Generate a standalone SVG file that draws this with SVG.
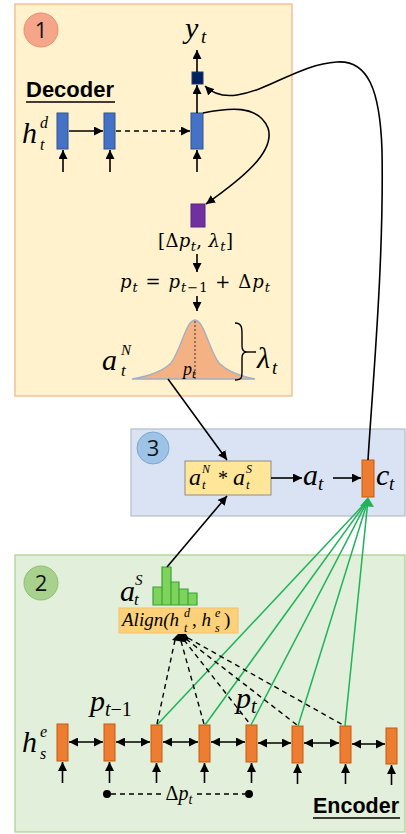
<svg xmlns="http://www.w3.org/2000/svg" width="406" height="834" viewBox="0 0 406 834">
<style>
.m{font-family:"Liberation Serif","DejaVu Serif",serif;font-style:italic;fill:#000}
.f{font-family:"DejaVu Serif","Liberation Serif",serif;font-style:italic;fill:#000}
.u{font-style:normal}
.lbl{font-family:"Liberation Sans",Arial,sans-serif;font-weight:bold;fill:#000}
.num{font-family:"Open Sans","Liberation Sans",sans-serif;fill:#111}
.ln{stroke:#000;stroke-width:1.6;fill:none}
.dash{stroke:#000;stroke-width:1.4;fill:none;stroke-dasharray:5 4}
.grn{stroke:#1fb35a;stroke-width:1.5;fill:none}
.dbox{fill:#4472c4;stroke:#2f528f;stroke-width:1}
.ebox{fill:#ed7d31;stroke:#c55a11;stroke-width:1}
</style>
<defs>
<marker id="ah" viewBox="0 0 10 10" refX="10" refY="5" markerWidth="9" markerHeight="9" markerUnits="userSpaceOnUse" orient="auto-start-reverse"><path d="M0,0 L10,5 L0,10 z" fill="#000"/></marker>
</defs>

<g id="panel1">
<rect x="15" y="4" width="277" height="392" fill="#fff2cc" stroke="#f4b183" stroke-width="1.2"/>
<circle cx="41" cy="30" r="17" fill="#f4a58a" stroke="#e8906e" stroke-width="1"/>
<text class="num" x="41" y="38" font-size="22" text-anchor="middle">1</text>
</g>
<g id="panel3">
<rect x="131" y="429" width="274" height="87" fill="#dae3f3" stroke="#b4bcc8" stroke-width="1.2"/>
<circle cx="153" cy="448" r="16" fill="#9dc3e6" stroke="#7fa6d0" stroke-width="1"/>
<text class="num" x="153" y="456" font-size="22" text-anchor="middle">3</text>
</g>
<g id="panel2">
<rect x="15" y="555" width="390" height="277" fill="#e2efda" stroke="#a9d18e" stroke-width="1.2"/>
<circle cx="41" cy="583" r="17" fill="#a9d18e" stroke="#8cbf73" stroke-width="1"/>
<text class="num" x="41" y="591" font-size="22" text-anchor="middle">2</text>
</g>

<g id="decoder">
<text class="lbl" x="26" y="97" font-size="22" textLength="88" lengthAdjust="spacingAndGlyphs">Decoder</text>
<line x1="26" y1="102" x2="115" y2="102" stroke="#000" stroke-width="1.5"/>
<text class="m" x="22" y="143" font-size="30">h</text>
<text class="m" x="40" y="128" font-size="16">d</text>
<text class="m" x="40" y="150" font-size="16">t</text>
<rect class="dbox" x="57" y="113" width="11" height="36"/>
<rect class="dbox" x="104" y="113" width="11" height="36"/>
<rect class="dbox" x="191" y="113" width="12" height="36"/>
<rect x="192" y="72" width="11" height="12" fill="#002060" stroke="#1f3864" stroke-width="1"/>
<text class="m" x="185" y="38" font-size="30">y</text>
<text class="m" x="201" y="43" font-size="19">t</text>
</g>

<g id="delta">
<rect x="191" y="204" width="14" height="23" fill="#7030a0" stroke="#5b2583" stroke-width="1"/>
<text class="f" x="158" y="247" font-size="18" textLength="75" lengthAdjust="spacing"><tspan class="u">[Δ</tspan>p<tspan font-size="13" dy="4">t</tspan><tspan dy="-4" class="u">, </tspan>λ<tspan font-size="13" dy="4">t</tspan><tspan dy="-4" class="u">]</tspan></text>
<text class="f" x="120" y="288" font-size="18" textLength="150" lengthAdjust="spacing">p<tspan font-size="13" dy="4">t</tspan><tspan dy="-4" class="u"> = </tspan>p<tspan font-size="13" dy="4">t<tspan class="u">−1</tspan></tspan><tspan dy="-4" class="u"> + Δ</tspan>p<tspan font-size="13" dy="4">t</tspan></text>
</g>

<g id="gauss">
<path d="M132,379 C150,376 163,371 171,363 C181,350 186,320 195,320 C204,320 209,350 219,363 C227,371 240,376 255,379 Z" fill="#f4b183" stroke="#9fafc4" stroke-width="1.3"/>
<line x1="195" y1="321" x2="195" y2="379" stroke="#333" stroke-width="1" stroke-dasharray="2 2"/>
<text class="m" x="183" y="375" font-size="18">p<tspan font-size="13" dy="3">t</tspan></text>
<text class="m" x="102" y="370" font-size="30">a</text>
<text class="m" x="121" y="355" font-size="15">N</text>
<text class="m" x="121" y="376" font-size="17">t</text>
<path d="M235,323 C242,323 242,328 242,335 L242,346 C242,350 244,352 247,352 C244,352 242,354 242,358 L242,372 C242,377 242,380 235,380" fill="none" stroke="#000" stroke-width="1.4"/>
<line x1="247" y1="352" x2="256" y2="352" stroke="#000" stroke-width="1.4"/>
<text class="m" x="257" y="368" font-size="30">λ</text>
<text class="m" x="272" y="374" font-size="19">t</text>
</g>

<g id="combine">
<rect x="185" y="461" width="86" height="34" fill="#ffe699" stroke="#8c8c8c" stroke-width="1"/>
<text class="m" x="189" y="485" font-size="24">a</text>
<text class="m" x="202" y="473" font-size="12">N</text>
<text class="m" x="202" y="489" font-size="13">t</text>
<text class="m" x="218" y="485" font-size="20"><tspan class="u">*</tspan></text>
<text class="m" x="233" y="485" font-size="24">a</text>
<text class="m" x="246" y="473" font-size="12">S</text>
<text class="m" x="246" y="489" font-size="13">t</text>
<text class="m" x="303" y="485" font-size="30">a</text>
<text class="m" x="318" y="490" font-size="19">t</text>
<rect class="ebox" x="362" y="460" width="12" height="37"/>
<text class="m" x="376" y="485" font-size="30">c</text>
<text class="m" x="389" y="490" font-size="19">t</text>
</g>

<g id="align">
<path d="M153,605 V587 H162 V567 H171 V582 H179 V589 H188 V593 H197 V605 Z" fill="#7ed35a" stroke="#3aa13a" stroke-width="1.2"/>
<line x1="162" y1="605" x2="162" y2="587" stroke="#3aa13a" stroke-width="1.2"/>
<line x1="171" y1="605" x2="171" y2="582" stroke="#3aa13a" stroke-width="1.2"/>
<line x1="179" y1="605" x2="179" y2="589" stroke="#3aa13a" stroke-width="1.2"/>
<line x1="188" y1="605" x2="188" y2="593" stroke="#3aa13a" stroke-width="1.2"/>
<text class="m" x="120" y="601" font-size="30">a</text>
<text class="m" x="135" y="585" font-size="15">S</text>
<text class="m" x="134" y="605" font-size="17">t</text>
<rect x="119" y="608" width="119" height="25" fill="#fdd07a" stroke="#f6c06a" stroke-width="1"/>
<text class="m" x="122" y="626" font-size="19">Align(h</text>
<text class="m" x="184" y="617" font-size="12">d</text>
<text class="m" x="184" y="632" font-size="12">t</text>
<text class="m" x="192" y="626" font-size="19"><tspan class="u">, </tspan>h</text>
<text class="m" x="215" y="617" font-size="12">e</text>
<text class="m" x="215" y="632" font-size="12">s</text>
<text class="m" x="224" y="626" font-size="19"><tspan class="u">)</tspan></text>
</g>

<g id="encoder">
<text class="m" x="22" y="752" font-size="30">h</text>
<text class="m" x="40" y="737" font-size="16">e</text>
<text class="m" x="40" y="759" font-size="16">s</text>
<text class="m" x="90" y="711" font-size="30">p<tspan font-size="20" dy="5">t<tspan class="u">−1</tspan></tspan></text>
<text class="m" x="236" y="708" font-size="30">p<tspan font-size="20" dy="5">t</tspan></text>
<rect class="ebox" x="57" y="724" width="11" height="37"/>
<rect class="ebox" x="104" y="724" width="11" height="37"/>
<rect class="ebox" x="151" y="725" width="11" height="37"/>
<rect class="ebox" x="199" y="725" width="11" height="37"/>
<rect class="ebox" x="246" y="725" width="11" height="37"/>
<rect class="ebox" x="292" y="726" width="11" height="37"/>
<rect class="ebox" x="340" y="726" width="11" height="37"/>
<rect class="ebox" x="386" y="728" width="11" height="36"/>
<circle cx="107" cy="794" r="4" fill="#000"/>
<circle cx="249" cy="794" r="4" fill="#000"/>
<text class="m" x="179" y="800" font-size="20" text-anchor="middle"><tspan class="u">Δ</tspan>p<tspan font-size="14" dy="4">t</tspan></text>
<text class="lbl" x="313" y="813" font-size="22" textLength="86" lengthAdjust="spacingAndGlyphs">Encoder</text>
<line x1="313" y1="818" x2="400" y2="818" stroke="#000" stroke-width="1.5"/>
</g>

<g id="connectors">
<line class="ln" x1="197" y1="72" x2="197" y2="50" marker-end="url(#ah)"/>
<line class="ln" x1="197" y1="113" x2="197" y2="85" marker-end="url(#ah)"/>
<line class="ln" x1="69" y1="131" x2="103" y2="131" marker-end="url(#ah)"/>
<line class="dash" x1="116" y1="131" x2="190" y2="131" marker-end="url(#ah)"/>
<line class="ln" x1="63" y1="172" x2="63" y2="150" marker-end="url(#ah)"/>
<line class="ln" x1="110" y1="172" x2="110" y2="150" marker-end="url(#ah)"/>
<line class="ln" x1="197" y1="172" x2="197" y2="150" marker-end="url(#ah)"/>
<path class="ln" d="M203,113 C228,108 258,104 268,128 C276,152 240,180 206,204" marker-end="url(#ah)"/>
<line class="ln" x1="197" y1="254" x2="197" y2="272" marker-end="url(#ah)"/>
<line class="ln" x1="197" y1="296" x2="197" y2="311" marker-end="url(#ah)"/>
<path class="ln" d="M368,460 C373,380 384,260 382,150 C380,90 368,60 337,62 C300,64 270,90 237,95 C222,97 212,93 205,86" marker-end="url(#ah)"/>
<line class="ln" x1="168" y1="379" x2="227" y2="460" marker-end="url(#ah)"/>
<line class="ln" x1="167" y1="567" x2="227" y2="496" marker-end="url(#ah)"/>
<line class="ln" x1="271" y1="478" x2="302" y2="478" marker-end="url(#ah)"/>
<line class="ln" x1="333" y1="478" x2="361" y2="478" marker-end="url(#ah)"/>
<line class="grn" x1="157" y1="725" x2="368" y2="500"/>
<line class="grn" x1="205" y1="725" x2="368" y2="500"/>
<line class="grn" x1="251" y1="725" x2="368" y2="500"/>
<line class="grn" x1="298" y1="726" x2="368" y2="500"/>
<line class="grn" x1="345" y1="726" x2="368" y2="500"/>
<path d="M368,497 L374,507 L360,506 Z" fill="#1fb35a"/>
<line class="dash" x1="175" y1="640" x2="157" y2="724"/>
<line class="dash" x1="181" y1="641" x2="204" y2="724"/>
<line class="dash" x1="184" y1="640" x2="250" y2="724"/>
<line class="dash" x1="186" y1="639" x2="297" y2="725"/>
<line class="dash" x1="188" y1="638" x2="343" y2="725"/>
<path d="M172,640 L178,634 L186,634 L189,639 L184,642 Z" fill="#000"/>
<line class="ln" x1="69" y1="742" x2="103" y2="742" marker-start="url(#ah)" marker-end="url(#ah)"/>
<line class="ln" x1="116" y1="742" x2="150" y2="742" marker-start="url(#ah)" marker-end="url(#ah)"/>
<line class="ln" x1="163" y1="742" x2="198" y2="742" marker-start="url(#ah)" marker-end="url(#ah)"/>
<line class="ln" x1="211" y1="742" x2="245" y2="742" marker-start="url(#ah)" marker-end="url(#ah)"/>
<line class="ln" x1="258" y1="743" x2="291" y2="743" marker-start="url(#ah)" marker-end="url(#ah)"/>
<line class="ln" x1="304" y1="743" x2="339" y2="743" marker-start="url(#ah)" marker-end="url(#ah)"/>
<line class="ln" x1="352" y1="744" x2="385" y2="744" marker-start="url(#ah)" marker-end="url(#ah)"/>
<line class="ln" x1="62.5" y1="783" x2="62.5" y2="762" marker-end="url(#ah)"/>
<line class="ln" x1="109.5" y1="783" x2="109.5" y2="762" marker-end="url(#ah)"/>
<line class="ln" x1="156.5" y1="783" x2="156.5" y2="763" marker-end="url(#ah)"/>
<line class="ln" x1="204.5" y1="783" x2="204.5" y2="763" marker-end="url(#ah)"/>
<line class="ln" x1="251.5" y1="783" x2="251.5" y2="763" marker-end="url(#ah)"/>
<line class="ln" x1="297.5" y1="784" x2="297.5" y2="764" marker-end="url(#ah)"/>
<line class="ln" x1="345.5" y1="784" x2="345.5" y2="764" marker-end="url(#ah)"/>
<line class="ln" x1="391.5" y1="785" x2="391.5" y2="765" marker-end="url(#ah)"/>
<line class="dash" x1="111" y1="794" x2="163" y2="794"/>
<line class="dash" x1="197" y1="794" x2="245" y2="794"/>
</g>
</svg>
